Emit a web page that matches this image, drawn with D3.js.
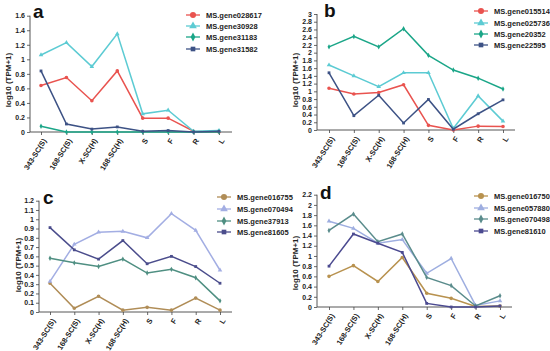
<!DOCTYPE html>
<html><head><meta charset="utf-8">
<script src="https://cdn.jsdelivr.net/npm/d3@7"></script>
<style>body{margin:0;background:#fff}svg{display:block}</style>
</head><body>
<svg id="c" width="550" height="351"></svg>
<script>
const categories = ["343-SC(S)","168-SC(S)","X-SC(H)","168-SC(H)","S","F","R","L"];

const genesA = ["MS.gene028617","MS.gene30928","MS.gene31183","MS.gene31582"];
const valuesA = [
  [0.64,0.75,0.43,0.84,0.19,0.19,0.01,0.00],
  [1.06,1.23,0.90,1.35,0.25,0.30,0.01,0.02],
  [0.08,0.00,0.00,0.00,0.00,0.00,0.00,0.00],
  [0.84,0.11,0.04,0.07,0.01,0.02,0.00,0.01]
];
const ticksA = ["0","0.2","0.4","0.6","0.8","1","1.2","1.4","1.6"];

const genesB = ["MS.gene015514","MS.gene025736","MS.gene20352","MS.gene22595"];
const valuesB = [
  [1.08,0.93,0.97,1.17,0.12,0.00,0.10,0.09],
  [1.68,1.40,1.12,1.48,1.48,0.04,0.88,0.23],
  [2.15,2.42,2.15,2.62,1.93,1.55,1.34,1.06],
  [1.48,0.37,0.90,0.18,0.79,0.02,0.42,0.78]
];
const ticksB = ["0","0.2","0.4","0.6","0.8","1","1.2","1.4","1.6","1.8","2","2.2","2.4","2.6","2.8","3"];

const genesC = ["MS.gene016755","MS.gene070494","MS.gene37913","MS.gene81605"];
const valuesC = [
  [0.31,0.04,0.17,0.02,0.05,0.02,0.15,0.02],
  [0.33,0.73,0.86,0.87,0.80,1.06,0.88,0.45],
  [0.58,0.53,0.49,0.57,0.42,0.46,0.37,0.12],
  [0.91,0.67,0.57,0.77,0.52,0.60,0.49,0.31]
];
const ticksC = ["0","0.1","0.2","0.3","0.4","0.5","0.6","0.7","0.8","0.9","1","1.1","1.2"];

const genesD = ["MS.gene016750","MS.gene057880","MS.gene070498","MS.gene81610"];
const valuesD = [
  [0.60,0.81,0.50,0.97,0.27,0.17,0.01,0.02],
  [1.68,1.54,1.25,1.32,0.66,0.95,0.03,0.12],
  [1.50,1.82,1.28,1.43,0.58,0.42,0.02,0.22],
  [0.80,1.43,1.25,1.07,0.07,0.00,0.00,0.02]
];
const ticksD = ["0","0.2","0.4","0.6","0.8","1","1.2","1.4","1.6","1.8","2","2.2"];

const colorsAB = ["#e9534f","#5ccbd3","#1ba688","#3d5285"];
const colorsC = ["#b08d57","#a3aee3","#4f8f82","#4b4d8c"];
const colorsD = ["#b8924f","#9eaee0","#5a8c8c","#4b4a90"];
const shapes = ["circle","triangle","diamond","square"];

const panels = [
  {label:"a", genes:genesA, values:valuesA, ticks:ticksA, colors:colorsAB,
   axisX:30, x0:41, x1:219, xEnd:232, yZero:132, yTop:15.7, yMax:1.6,
   lx:33, ly:18, legX:193, legY:[15,26,37,49], titleX:8, titleY:80},
  {label:"b", genes:genesB, values:valuesB, ticks:ticksB, colors:colorsAB,
   axisX:317, x0:329, x1:503, xEnd:515, yZero:130, yTop:14, yMax:3,
   lx:324, ly:17, legX:481, legY:[11,23,34,45], titleX:295, titleY:80},
  {label:"c", genes:genesC, values:valuesC, ticks:ticksC, colors:colorsC,
   axisX:39, x0:50, x1:220, xEnd:232, yZero:312, yTop:200.7, yMax:1.2,
   lx:43, ly:204, legX:224, legY:[197,209,221,232], titleX:18, titleY:265},
  {label:"d", genes:genesD, values:valuesD, ticks:ticksD, colors:colorsD,
   axisX:317, x0:329, x1:500, xEnd:512, yZero:307, yTop:194.7, yMax:2.2,
   lx:320, ly:199, legX:481, legY:[196,208,219,231], titleX:295, titleY:263}
];

const svg = d3.select("#c");
const FONT = "'Liberation Sans', Arial, sans-serif";

function markerPath(shape, s){
  if(shape==="circle") return d3.symbol().type(d3.symbolCircle).size(s*s*0.8)();
  if(shape==="triangle") return d3.symbol().type(d3.symbolTriangle).size(s*s*0.7)();
  if(shape==="square") return d3.symbol().type(d3.symbolSquare).size(s*s*0.6)();
  const w=s*0.4, h=s*0.75;
  return `M0,${-h}L${w},0L0,${h}L${-w},0Z`;
}

panels.forEach(p=>{
  const g = svg.append("g");
  const x = d3.scalePoint().domain(categories).range([p.x0,p.x1]);
  const y = d3.scaleLinear().domain([0,p.yMax]).range([p.yZero,p.yTop]);

  // y axis
  const tickVals = p.ticks.map(Number);
  const ya = g.append("g").attr("transform",`translate(${p.axisX},0)`)
    .call(d3.axisLeft(y).tickValues(tickVals).tickFormat((d,i)=>p.ticks[i]).tickSize(3).tickPadding(2));
  ya.select(".domain").attr("stroke","#444").attr("stroke-width",0.9).attr("d",`M0,${p.yZero}V${p.yTop}`);
  ya.selectAll(".tick line").attr("stroke","#444").attr("stroke-width",0.8);
  ya.selectAll("text").attr("font-family",FONT).attr("font-size",7).attr("font-weight","bold").attr("fill","#222");

  // x axis
  const xa = g.append("g").attr("transform",`translate(0,${p.yZero})`)
    .call(d3.axisBottom(x).tickSize(3).tickPadding(3));
  xa.select(".domain").attr("stroke","#444").attr("stroke-width",0.9).attr("d",`M${p.axisX},0H${p.xEnd}`);
  xa.selectAll(".tick line").attr("stroke","#444").attr("stroke-width",0.8);
  xa.selectAll("text").attr("font-family",FONT).attr("font-size",7.5).attr("font-weight","bold").attr("fill","#222")
    .attr("text-anchor","end").attr("dy","0.35em").attr("transform","translate(-2,4) rotate(-58)");

  // y title
  g.append("text").attr("transform",`translate(${p.titleX},${p.titleY}) rotate(-90)`)
    .attr("text-anchor","middle").attr("dy","0.35em").attr("font-family",FONT).attr("font-size",8)
    .attr("font-weight","bold").attr("fill","#222").text("log10 (TPM+1)");

  // panel label
  g.append("text").attr("x",p.lx).attr("y",p.ly).attr("font-family",FONT).attr("font-size",19)
    .attr("font-weight","bold").attr("fill","#111").text(p.label);

  // lines + markers
  const line = d3.line().x((d,i)=>x(categories[i])).y(d=>y(d));
  p.values.forEach((vals,k)=>{
    g.append("path").attr("d",line(vals)).attr("fill","none").attr("stroke",p.colors[k]).attr("stroke-width",1.5);
    g.selectAll(null).data(vals).enter().append("path")
      .attr("transform",(d,i)=>`translate(${x(categories[i])},${y(d)})`)
      .attr("d",markerPath(shapes[k],3.6)).attr("fill",p.colors[k]);
  });

  // legend
  p.genes.forEach((name,k)=>{
    const ly = p.legY[k];
    g.append("line").attr("x1",p.legX-7).attr("x2",p.legX+7).attr("y1",ly).attr("y2",ly)
      .attr("stroke",p.colors[k]).attr("stroke-width",1.3);
    g.append("path").attr("transform",`translate(${p.legX},${ly})`).attr("d",markerPath(shapes[k],6)).attr("fill",p.colors[k]);
    g.append("text").attr("x",p.legX+13).attr("y",ly).attr("dy","0.35em").attr("font-family",FONT)
      .attr("font-size",7.5).attr("font-weight","bold").attr("fill","#222").text(name);
  });
});
</script>
</body></html>
